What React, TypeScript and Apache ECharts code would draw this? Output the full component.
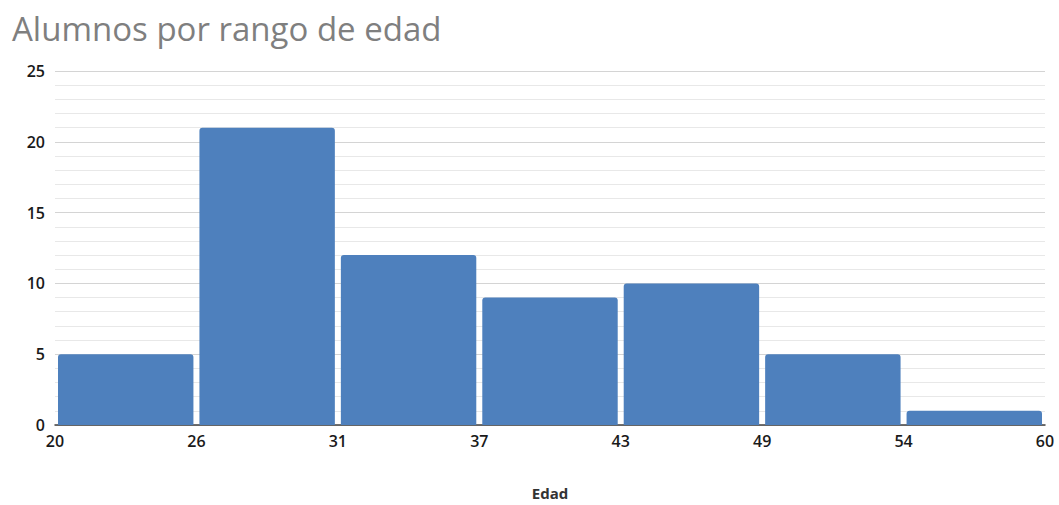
import React, { useEffect, useRef } from "react";
import * as echarts from "echarts";

// Age bin edges and number of students in each bin
const binEdges: string[] = ["20", "26", "31", "37", "43", "49", "54", "60"];
const studentCounts: number[] = [5, 21, 12, 9, 10, 5, 1];
const yTicks: number[] = [0, 5, 10, 15, 20, 25];

const FONT = "'Open Sans', 'Noto Sans', sans-serif";

export default function App() {
  const ref = useRef<HTMLDivElement>(null);

  useEffect(() => {
    if (!ref.current) return;
    const chart = echarts.init(ref.current, undefined, { renderer: "svg" });
    const data = studentCounts.map((v, i) => [i, v]);

    chart.setOption({
      animation: false,
      backgroundColor: "#ffffff",
      title: {
        text: "Alumnos por rango de edad",
        left: 7,
        top: 7,
        textStyle: {
          fontFamily: FONT,
          fontSize: 33,
          fontWeight: "normal",
          color: "#7f7f7f",
        },
      },
      grid: { left: 55, right: 14, top: 71, bottom: 67 },
      xAxis: {
        type: "value",
        min: 0,
        max: binEdges.length - 1,
        interval: 1,
        name: "Edad",
        nameLocation: "middle",
        nameGap: 60,
        nameTextStyle: {
          fontFamily: FONT,
          fontSize: 15,
          fontWeight: "bold",
          color: "#333333",
        },
        axisLine: { show: true, lineStyle: { color: "#404040", width: 1.5 } },
        axisTick: { show: false },
        splitLine: { show: false },
        axisLabel: {
          fontFamily: FONT,
          fontSize: 16,
          fontWeight: 600,
          color: "#1a1a1a",
          margin: 8,
          formatter: (v: number) => binEdges[Math.round(v)] ?? "",
        },
      },
      yAxis: {
        type: "value",
        min: yTicks[0],
        max: yTicks[yTicks.length - 1],
        interval: 5,
        axisLine: { show: false },
        axisTick: { show: false },
        axisLabel: {
          fontFamily: FONT,
          fontSize: 16,
          fontWeight: 600,
          color: "#1a1a1a",
          margin: 10,
        },
        splitLine: { show: true, lineStyle: { color: "#d4d4d4", width: 1 } },
        minorTick: { show: false, splitNumber: 5 },
        minorSplitLine: { show: true, lineStyle: { color: "#e8e8e8", width: 1 } },
      },
      series: [
        {
          type: "custom",
          data,
          encode: { x: 0, y: 1 },
          renderItem: (params: any, api: any) => {
            const i = api.value(0);
            const v = api.value(1);
            const start = api.coord([i, v]);
            const end = api.coord([i + 1, 0]);
            const gap = 3;
            return {
              type: "rect",
              shape: {
                x: start[0] + gap,
                y: start[1],
                width: end[0] - start[0] - gap * 2,
                height: end[1] - start[1],
                r: [3, 3, 0, 0],
              },
              style: { fill: "#4e80bd" },
            };
          },
        },
      ],
    });

    return () => chart.dispose();
  }, []);

  return (
    <div
      ref={ref}
      style={{ position: "fixed", left: 0, top: 0, width: 1059, height: 505 }}
    />
  );
}
